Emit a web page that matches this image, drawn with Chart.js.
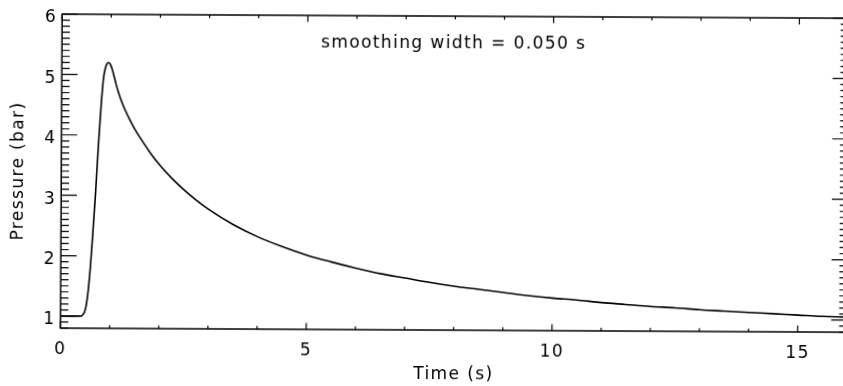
<!DOCTYPE html>
<html>
<head>
<meta charset="utf-8">
<title>Pressure vs time</title>
<script src="https://cdn.jsdelivr.net/npm/chart.js@4.4.1/dist/chart.umd.min.js"></script>
<style>
    html, body { margin: 0; padding: 0; background: #fff; overflow: hidden; }
    #wrap { position: relative; width: 843px; height: 386px; overflow: hidden; }
    #pressureChart {
        position: absolute; left: 0; top: 0;
        transform: rotate(0.3deg);
        transform-origin: 421.5px 193px;
    }
</style>
</head>
<body>
<div id="wrap">
    <canvas id="pressureChart" width="860" height="386"></canvas>
</div>
<script>
// Measured pressure trace (time in s, pressure in bar)
const timeValues = [0, 0.2, 0.4, 0.45, 0.5, 0.55, 0.6, 0.65, 0.7, 0.75, 0.8, 0.85, 0.9, 0.95,
    1.0, 1.05, 1.1, 1.15, 1.2, 1.28, 1.4, 1.5, 1.6, 1.8, 2.0, 2.25, 2.5, 2.75, 3.0, 3.5, 4.0, 4.5, 5.0,
    5.5, 6.0, 6.5, 7.0, 7.5, 8.0, 8.5, 9.0, 9.5, 10, 10.5, 11, 11.5, 12, 12.5, 13, 13.5,
    14, 14.5, 15, 15.5, 16];
const pressureValues = [1.0, 1.0, 1.0, 1.02, 1.1, 1.35, 1.8, 2.4, 3.05, 3.8, 4.45, 4.95, 5.15, 5.2,
    5.15, 5.02, 4.86, 4.72, 4.6, 4.44, 4.24, 4.09, 3.96, 3.72, 3.51, 3.29, 3.10, 2.93, 2.78, 2.53, 2.33, 2.17, 2.03,
    1.92, 1.82, 1.73, 1.66, 1.59, 1.53, 1.48, 1.43, 1.38, 1.34, 1.31, 1.27, 1.24, 1.21, 1.19, 1.16, 1.14,
    1.12, 1.10, 1.08, 1.06, 1.05];

// Axis ticks
const timeTicks = [0, 5, 10, 15];
const pressureTicks = [1, 2, 3, 4, 5, 6];
const timeMinorStep = 1;
const pressureMinorStep = 0.1;

const noteText = 'smoothing width = 0.050 s';
const notePos = { x: 5.27, y: 5.55 };

const INK = '#000';
const FONT = { family: "'DejaVu Sans', sans-serif", size: 17 };
const SPACING = '1.4px';

// IDL-style box: axes on all four sides, ticks pointing inwards
const boxAxes = {
    id: 'boxAxes',
    // resizing the canvas resets the context, so set the spacing before each pass
    beforeUpdate(chart) { chart.ctx.letterSpacing = SPACING; },
    beforeDraw(chart) { chart.ctx.letterSpacing = SPACING; },
    afterDatasetsDraw(chart) {
        const { ctx, chartArea: a, scales: { x, y } } = chart;
        ctx.save();
        ctx.strokeStyle = INK;
        ctx.lineWidth = 1.5;
        ctx.strokeRect(a.left, a.top, a.right - a.left, a.bottom - a.top);

        ctx.lineWidth = 1.2;
        ctx.beginPath();
        // x ticks, bottom and top
        for (let t = x.min; t <= x.max + 1e-6; t += timeMinorStep) {
            const px = x.getPixelForValue(t);
            const len = timeTicks.includes(Math.round(t)) ? 6.5 : 3.3;
            ctx.moveTo(px, a.bottom); ctx.lineTo(px, a.bottom - len);
            ctx.moveTo(px, a.top); ctx.lineTo(px, a.top + len);
        }
        // y ticks, left and right
        for (let i = Math.round(y.min * 10); i <= Math.round(y.max * 10); i += pressureMinorStep * 10) {
            const py = y.getPixelForValue(i / 10);
            const len = i % 10 === 0 ? 15.7 : 7.8;
            ctx.moveTo(a.left, py); ctx.lineTo(a.left + len, py);
            ctx.moveTo(a.right, py); ctx.lineTo(a.right - len, py);
        }
        ctx.stroke();

        ctx.fillStyle = INK;
        ctx.font = `${FONT.size}px ${FONT.family}`;
        ctx.letterSpacing = SPACING;
        ctx.textAlign = 'left';
        ctx.textBaseline = 'middle';
        ctx.fillText(noteText, x.getPixelForValue(notePos.x), y.getPixelForValue(notePos.y));
        ctx.restore();
    }
};

const ctx = document.getElementById('pressureChart').getContext('2d');
const pressureChart = new Chart(ctx, {
    type: 'line',
    data: {
        datasets: [{
            data: timeValues.map((t, i) => ({ x: t, y: pressureValues[i] })),
            borderColor: INK,
            borderWidth: 1.6,
            pointRadius: 0,
            fill: false,
            cubicInterpolationMode: 'monotone'
        }]
    },
    options: {
        responsive: false,
        animation: false,
        layout: { padding: { top: 16, right: 12.4, bottom: 0, left: 0 } },
        plugins: { legend: { display: false }, tooltip: { enabled: false } },
        scales: {
            x: {
                type: 'linear',
                min: 0,
                max: 16,
                grid: { display: false, drawTicks: false },
                border: { display: false },
                afterBuildTicks: scale => { scale.ticks = timeTicks.map(v => ({ value: v })); },
                afterFit: scale => { scale.height = 56; },
                ticks: { color: INK, font: FONT, padding: 11, maxRotation: 0 },
                title: { display: true, text: 'Time (s)', color: INK, font: FONT, padding: { top: 0, bottom: 1 } }
            },
            y: {
                min: 0.8,
                max: 6,
                grid: { display: false, drawTicks: false },
                border: { display: false },
                afterBuildTicks: scale => { scale.ticks = pressureTicks.map(v => ({ value: v })); },
                afterFit: scale => { scale.width = 61.2; },
                ticks: { color: INK, font: FONT, padding: 5, labelOffset: 4 },
                title: { display: true, text: 'Pressure (bar)', color: INK, font: FONT, padding: { top: 8, bottom: 0 } }
            }
        }
    },
    plugins: [boxAxes]
});
</script>
</body>
</html>
